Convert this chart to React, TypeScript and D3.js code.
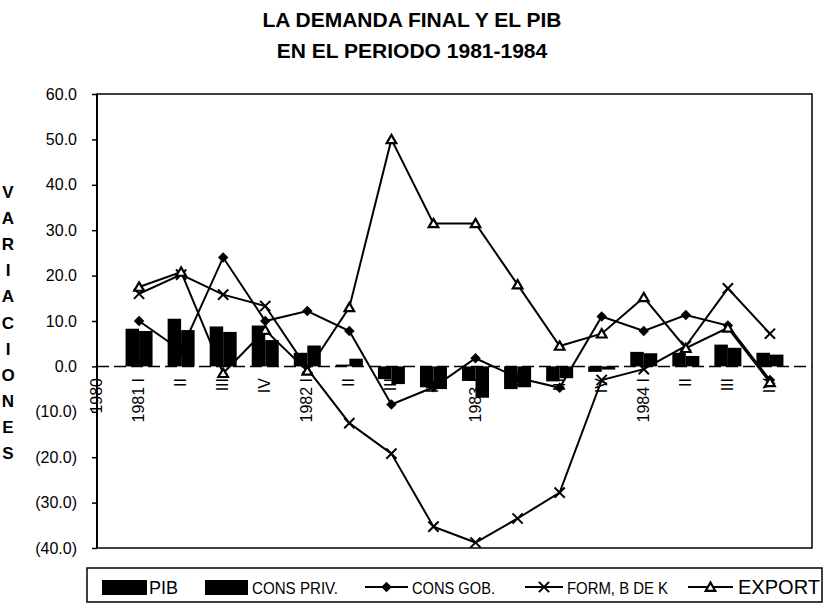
import React, { useRef, useEffect } from 'react';
import * as d3 from 'd3';

// datos (variaciones %)
const categories = ['1980', '1981 I', 'II', 'III', 'IV', '1982 I', 'II', 'III', 'IV', '1983 I', 'II', 'III', 'IV', '1984 I', 'II', 'III', 'IV'];
const pib: (number | null)[] = [null, 8.3, 10.5, 8.8, 9.0, 3.0, 0.4, -2.8, -4.6, -3.2, -5.0, -3.3, -1.2, 3.2, 3.0, 4.8, 3.0];
const consPriv: (number | null)[] = [null, 7.8, 8.0, 7.6, 5.8, 4.6, 1.7, -3.9, -5.0, -6.9, -4.6, -2.6, -0.7, 2.9, 2.3, 4.1, 2.6];
const consGob: (number | null)[] = [null, 10.0, 3.5, 24.0, 10.0, 12.2, 7.8, -8.4, -4.6, 1.8, -2.5, -4.7, 11.0, 7.8, 11.3, 9.0, -3.0];
const formBK: (number | null)[] = [null, 16.0, 20.2, 15.8, 13.3, -0.5, -12.5, -19.2, -35.3, -38.8, -33.5, -27.8, -3.0, -0.6, 4.5, 17.2, 7.2];
const exportS: (number | null)[] = [null, 17.5, 20.8, -1.5, 8.0, -1.0, 13.0, 50.0, 31.5, 31.5, 18.0, 4.5, 7.2, 15.2, 4.0, 8.5, -3.5];
const yTicks = [-40, -30, -20, -10, 0, 10, 20, 30, 40, 50, 60];
const titleLines = ['LA DEMANDA FINAL Y EL PIB', 'EN EL PERIODO 1981-1984'];
const yTitle = 'VARIACIONES';

const FONT = "'Liberation Sans', Arial, sans-serif";

export default function App() {
  const svgRef = useRef<SVGSVGElement>(null);

  useEffect(() => {
    if (!svgRef.current) return;
    const svg = d3.select(svgRef.current);
    svg.selectAll('*').remove();

    const left = 97, right = 812, top = 94, bottom = 548;
    const x = d3.scaleLinear().domain([0, categories.length]).range([left, right]);
    const y = d3.scaleLinear().domain([-40, 60]).range([bottom, top]);
    const barW = 13.5;

    // titulo
    titleLines.forEach((t, i) => {
      svg.append('text')
        .attr('x', 412).attr('y', 27 + i * 31)
        .attr('text-anchor', 'middle')
        .attr('font-family', FONT).attr('font-weight', 'bold').attr('font-size', 21)
        .text(t);
    });

    // titulo eje Y, letra por letra
    yTitle.split('').forEach((ch, i) => {
      svg.append('text')
        .attr('x', 8).attr('y', 198 + i * 26.1)
        .attr('text-anchor', 'middle')
        .attr('font-family', FONT).attr('font-weight', 'bold').attr('font-size', 17)
        .text(ch);
    });

    // eje Y
    const yAxis = d3.axisLeft(y)
      .tickValues(yTicks)
      .tickSize(5)
      .tickPadding(15)
      .tickFormat(d => {
        const v = Number(d);
        return v < 0 ? `(${Math.abs(v).toFixed(1)})` : v.toFixed(1);
      });
    const ga = svg.append('g').attr('transform', `translate(${left},0)`).call(yAxis);
    ga.select('.domain').remove();
    ga.selectAll('line').attr('stroke', '#000').attr('stroke-width', 1.5);
    ga.selectAll('text').attr('font-family', FONT).attr('font-size', 16).attr('fill', '#000');

    // etiquetas de categorias (debajo de las barras)
    categories.forEach((c, i) => {
      svg.append('text')
        .attr('transform', `translate(${x(i) + 5},378) rotate(-90)`)
        .attr('text-anchor', 'end')
        .attr('font-family', FONT).attr('font-size', 16)
        .text(c);
    });

    // barras
    const barSeries = [pib, consPriv];
    barSeries.forEach((s, k) => {
      s.forEach((v, i) => {
        if (v == null) return;
        svg.append('rect')
          .attr('x', x(i) - barW + k * barW)
          .attr('y', Math.min(y(v), y(0)))
          .attr('width', barW)
          .attr('height', Math.abs(y(v) - y(0)))
          .attr('fill', '#000');
      });
    });

    // linea de cero
    svg.append('line')
      .attr('x1', left).attr('x2', right)
      .attr('y1', y(0)).attr('y2', y(0))
      .attr('stroke', '#000').attr('stroke-width', 1.5)
      .attr('stroke-dasharray', '12,5');

    // marco
    svg.append('rect')
      .attr('x', left).attr('y', top)
      .attr('width', right - left).attr('height', bottom - top)
      .attr('fill', 'none').attr('stroke', '#000').attr('stroke-width', 1.5);
    svg.append('line')
      .attr('x1', left).attr('x2', left).attr('y1', top).attr('y2', bottom)
      .attr('stroke', '#000').attr('stroke-width', 2);

    const line = d3.line<number | null>()
      .defined(d => d != null)
      .x((_, i) => x(i))
      .y(d => y(d as number));

    const diamond = d3.symbol(d3.symbolSquare, 55);
    const cross = d3.symbol(d3.symbolX, 70);
    const tri = d3.symbol(d3.symbolTriangle, 40);

    const lineSeries = [
      { data: consGob, marker: 'diamond' },
      { data: formBK, marker: 'x' },
      { data: exportS, marker: 'tri' },
    ];

    const drawMarker = (g: any, kind: string, cx: number, cy: number) => {
      if (kind === 'diamond') {
        g.append('path').attr('d', diamond()).attr('transform', `translate(${cx},${cy}) rotate(45)`).attr('fill', '#000');
      } else if (kind === 'x') {
        g.append('path').attr('d', cross()).attr('transform', `translate(${cx},${cy})`)
          .attr('fill', 'none').attr('stroke', '#000').attr('stroke-width', 2);
      } else {
        g.append('path').attr('d', tri()).attr('transform', `translate(${cx},${cy + 1})`)
          .attr('fill', '#fff').attr('stroke', '#000').attr('stroke-width', 2.2);
      }
    };

    lineSeries.forEach(s => {
      svg.append('path')
        .datum(s.data)
        .attr('fill', 'none').attr('stroke', '#000').attr('stroke-width', 2)
        .attr('d', line);
    });
    lineSeries.forEach(s => {
      s.data.forEach((v, i) => {
        if (v == null) return;
        drawMarker(svg, s.marker, x(i), y(v));
      });
    });

    // leyenda
    svg.append('rect')
      .attr('x', 87).attr('y', 568).attr('width', 735).attr('height', 34)
      .attr('fill', 'none').attr('stroke', '#000').attr('stroke-width', 1.5);

    const legendText = (tx: number, label: string, size: number, len?: number) => {
      const t = svg.append('text')
        .attr('x', tx).attr('y', 594)
        .attr('font-family', FONT).attr('font-size', size)
        .text(label);
      if (len) t.attr('textLength', len).attr('lengthAdjust', 'spacingAndGlyphs');
    };

    svg.append('rect').attr('x', 102).attr('y', 580).attr('width', 45).attr('height', 15).attr('fill', '#000');
    legendText(149, 'PIB', 18);
    svg.append('rect').attr('x', 205).attr('y', 580).attr('width', 43).attr('height', 15).attr('fill', '#000');
    legendText(252, 'CONS  PRIV.', 17, 86);

    const legendLine = (x1: number, x2: number, kind: string) => {
      svg.append('line').attr('x1', x1).attr('x2', x2).attr('y1', 587).attr('y2', 587)
        .attr('stroke', '#000').attr('stroke-width', 2);
      drawMarker(svg, kind, (x1 + x2) / 2, 587);
    };
    legendLine(365, 408, 'diamond');
    legendText(412, 'CONS  GOB.', 17, 83);
    legendLine(525, 563, 'x');
    legendText(567, 'FORM, B DE K', 17, 101);
    legendLine(688, 733, 'tri');
    legendText(738, 'EXPORT', 20, 82);
  }, []);

  return (
    <svg
      ref={svgRef}
      width={828}
      height={607}
      style={{ position: 'absolute', left: 0, top: 0, background: '#fff' }}
    />
  );
}
